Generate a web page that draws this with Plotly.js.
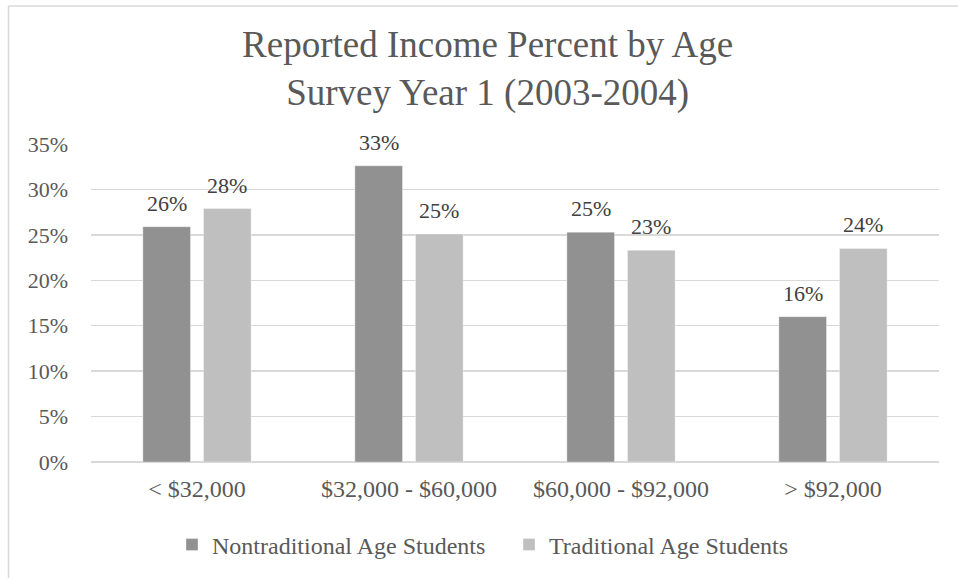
<!DOCTYPE html>
<html>
<head>
<meta charset="utf-8">
<script src="https://cdn.plot.ly/plotly-3.0.1.min.js"></script>
<style>
html,body{margin:0;padding:0;background:#fff;}
#chart{width:958px;height:578px;}
</style>
</head>
<body>
<div id="chart"></div>
<script>
var categories = ["< $32,000", "$32,000 - $60,000", "$60,000 - $92,000", "> $92,000"];
var nontraditional = [25.9, 32.6, 25.3, 16.0];
var traditional = [27.9, 25.1, 23.3, 23.5];
var seriesNames = ["Nontraditional Age Students", "Traditional Age Students"];
var yTicks = [0, 5, 10, 15, 20, 25, 30, 35];

var FONT = "Liberation Serif, Times New Roman, serif";
var W = 958, H = 578;
var M = {l: 91, r: 19, t: 144, b: 115};
var pw = W - M.l - M.r, ph = H - M.t - M.b;
var BARGAP = 0.428, GROUPGAP = 0.214;

function mk(name, vals, color) {
  return {
    type: 'bar', name: name, x: categories, y: vals,
    marker: {color: color, line: {color: 'rgba(255,255,255,0.35)', width: 1}},
    hoverinfo: 'none'
  };
}

var series = [nontraditional, traditional];
var data = [
  mk(seriesNames[0], nontraditional, '#919191'),
  mk(seriesNames[1], traditional, '#bfbfbf')
];

// value labels placed at the centre of each grouped bar (offset in category units)
var slotHalf = (1 - BARGAP) / 4;
var annotations = [];
series.forEach(function(vals, s) {
  vals.forEach(function(v, j) {
    annotations.push({
      xref: 'x', yref: 'y', x: j + (s === 0 ? -slotHalf : slotHalf), y: v,
      text: Math.round(v) + '%', showarrow: false,
      xanchor: 'center', yanchor: 'bottom', yshift: 9,
      font: {family: FONT, size: 22, color: '#404040'}
    });
  });
});

var layout = {
  width: W, height: H,
  margin: M,
  paper_bgcolor: '#ffffff', plot_bgcolor: '#ffffff',
  font: {family: FONT, color: '#595959', size: 22},
  title: {
    text: 'Reported Income Percent by Age<br>Survey Year 1 (2003-2004)',
    font: {family: FONT, size: 37, color: '#595959'},
    x: 0.509, xanchor: 'center', xref: 'container',
    y: 1 - 57 / H, yanchor: 'top', yref: 'container'
  },
  barmode: 'group', bargap: BARGAP, bargroupgap: GROUPGAP,
  showlegend: true,
  legend: {
    orientation: 'h', x: (509 - M.l) / pw, xanchor: 'center',
    y: -(545 - (M.t + ph)) / ph, yanchor: 'middle',
    font: {family: FONT, size: 24, color: '#595959'},
    itemwidth: 30, entrywidth: 292, traceorder: 'normal'
  },
  xaxis: {
    type: 'category', showgrid: false, showline: false, zeroline: false,
    ticks: '', tickfont: {family: FONT, size: 24, color: '#595959'},
    ticklabelstandoff: 10
  },
  yaxis: {
    range: [0, 35], tickvals: yTicks, ticktext: yTicks.map(function(v){return v + '%';}),
    showgrid: true, gridcolor: '#d9d9d9', gridwidth: 1.3,
    zeroline: true, zerolinecolor: '#d9d9d9', zerolinewidth: 1.3,
    showline: false, ticks: '', tickfont: {family: FONT, size: 22, color: '#595959'},
    ticklabelstandoff: 22
  },
  annotations: annotations,
  shapes: [
    {type: 'line', xref: 'paper', yref: 'paper',
     x0: (8.5 - M.l) / pw, x1: (8.5 - M.l) / pw,
     y0: (M.t + ph - 5.5) / ph, y1: -(M.b + 5) / ph,
     line: {color: '#d9d9d9', width: 1.5}},
    {type: 'line', xref: 'paper', yref: 'paper',
     x0: (8.5 - M.l) / pw, x1: (W + 5 - M.l) / pw,
     y0: (M.t + ph - 5.5) / ph, y1: (M.t + ph - 5.5) / ph,
     line: {color: '#d9d9d9', width: 1.5}}
  ]
};

Plotly.newPlot('chart', data, layout, {displayModeBar: false, staticPlot: true});
</script>
</body>
</html>
